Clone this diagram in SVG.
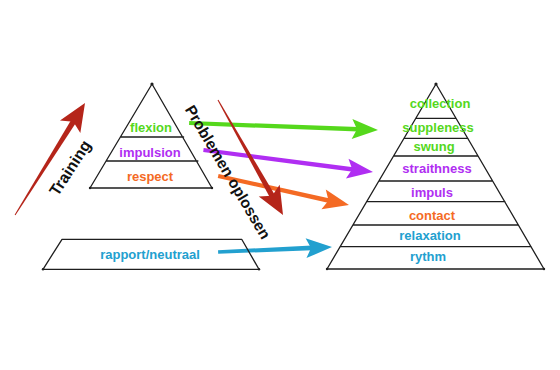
<svg xmlns="http://www.w3.org/2000/svg" width="560" height="370" viewBox="0 0 560 370">
<style>
.ln{fill:none;stroke:#1e1e1e;stroke-width:1.3;stroke-linecap:round;stroke-linejoin:round}
.dot{fill:#1e1e1e}
.t{font-family:"Liberation Sans",Arial,sans-serif;font-weight:bold;font-size:13px;text-anchor:middle}
.big{font-family:"Liberation Sans",Arial,sans-serif;font-weight:bold;font-size:16px;text-anchor:middle;fill:#111}
.g{fill:#55d81c}.p{fill:#b02ef2}.o{fill:#f46a24}.b{fill:#22a0cf}
</style>
<defs>
<path id="head" d="M0,0 L-26,-10 L-21,0 L-26,10 Z"/>
<path id="redhead" d="M0,0 L-28,-12 L-22,0 L-28,12 Z"/>
</defs>
<rect width="560" height="370" fill="#fff"/>

<g id="connectors">
  <g transform="translate(378,130) rotate(2.1)" fill="#55d81c">
    <path d="M-189,-2 L-20,-2.3 L-20,2.3 L-189,2 Z"/>
    <use href="#head"/>
  </g>
  <g transform="translate(373,172) rotate(7.4)" fill="#b02ef2">
    <path d="M-171,-2 L-20,-2.3 L-20,2.3 L-171,2 Z"/>
    <use href="#head"/>
  </g>
  <g transform="translate(349,205) rotate(12.5)" fill="#f46a24">
    <path d="M-134,-2 L-20,-2.3 L-20,2.3 L-134,2 Z"/>
    <use href="#head"/>
  </g>
  <g transform="translate(332,247) rotate(-2.5)" fill="#22a0cf">
    <path d="M-114,-1.8 L-20,-2.3 L-20,2.3 L-114,1.8 Z"/>
    <use href="#head"/>
  </g>
  <g transform="translate(85,103) rotate(-58)" fill="#b5251a">
    <path d="M-132,-0.5 L-20,-2.8 L-20,2.8 L-132,0.5 Z"/>
    <use href="#redhead"/>
  </g>
  <g transform="translate(283,215) rotate(60.5)" fill="#b5251a">
    <path d="M-132,-0.5 L-20,-2.8 L-20,2.8 L-132,0.5 Z"/>
    <use href="#redhead"/>
  </g>
</g>

<g id="left-pyramid">
  <path class="ln" d="M152,84 L90,188 L212,188 Z M120.4,137 L183.6,137 M106.1,161 L197.9,161"/>
  <circle class="dot" cx="152" cy="84" r="1.6"/>
  <circle class="dot" cx="90" cy="188" r="1.2"/>
  <circle class="dot" cx="212" cy="188" r="1.2"/>
  <text class="t g" x="151" y="132">flexion</text>
  <text class="t p" x="150" y="156.5">impulsion</text>
  <text class="t o" x="150" y="180.5">respect</text>
</g>

<g id="rapport">
  <path class="ln" d="M62,239.3 L241.7,239.3 L259,269.3 L43,269.3 Z"/>
  <circle class="dot" cx="43" cy="269.3" r="1.2"/>
  <circle class="dot" cx="259" cy="269.3" r="1.2"/>
  <text class="t b" x="150" y="258.5">rapport/neutraal</text>
</g>

<g id="right-pyramid">
  <path class="ln" d="M436,84 L327,269 L544,269 Z M416,118.3 L456,118.3 M404,138.3 L468,138.3 M393.6,156 L478,156 M378.9,181 L492.6,181 M366.5,201.7 L505,201.7 M353,225 L518.3,225 M340,246.7 L531.2,246.7"/>
  <circle class="dot" cx="436" cy="84" r="1.6"/>
  <circle class="dot" cx="327" cy="269" r="1.2"/>
  <circle class="dot" cx="544" cy="269" r="1.2"/>
  <text class="t g" x="440" y="108.2">collection</text>
  <text class="t g" x="438" y="131.5">suppleness</text>
  <text class="t g" x="434" y="151.2">swung</text>
  <text class="t p" x="437" y="173.2">straithness</text>
  <text class="t p" x="432" y="196.5">impuls</text>
  <text class="t o" x="432" y="219.5">contact</text>
  <text class="t b" x="430" y="240.2">relaxation</text>
  <text class="t b" x="428" y="260.5">rythm</text>
</g>

<g id="labels">
  <text class="big" transform="translate(70,168) rotate(-57)" y="5.5">Training</text>
  <text class="big" style="font-size:15.5px" transform="translate(228,172) rotate(59.4)" y="5.5">Problemen oplossen</text>
</g>
</svg>
